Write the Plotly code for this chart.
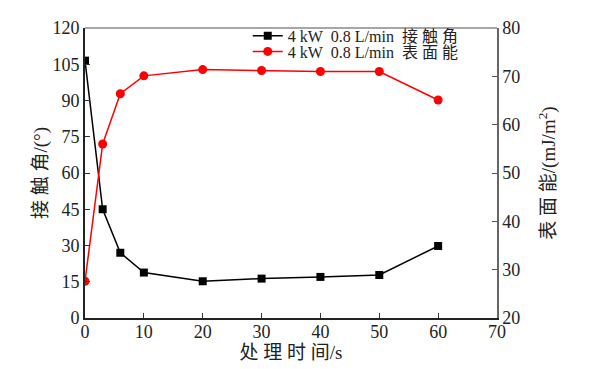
import plotly.graph_objects as go

time_s = [0, 3, 6, 10, 20, 30, 40, 50, 60]
contact_angle = [106.5, 45, 27, 18.8, 15.2, 16.3, 17, 17.8, 29.8]
surface_energy = [27.6, 56, 66.4, 70.1, 71.4, 71.2, 71, 71, 65.1]

x_ticks = [0, 10, 20, 30, 40, 50, 60, 70]
y1_ticks = [0, 15, 30, 45, 60, 75, 90, 105, 120]
y2_ticks = [20, 30, 40, 50, 60, 70, 80]

FONT = "Liberation Serif, Times New Roman, Noto Sans CJK SC, serif"
NB = "\u00a0"

fig = go.Figure()
fig.add_trace(go.Scatter(
    x=time_s, y=contact_angle, mode="lines+markers",
    name=f"4{NB}kW{NB}{NB}0.8{NB}L/min{NB}{NB}接{NB}触{NB}角",
    legend="legend",
    line=dict(color="black", width=1.5),
    marker=dict(symbol="square", size=8, color="black"),
))
fig.add_trace(go.Scatter(
    x=time_s, y=surface_energy, mode="lines+markers", yaxis="y2",
    name=f"4{NB}kW{NB}{NB}0.8{NB}L/min{NB}{NB}表{NB}面{NB}能",
    legend="legend2",
    line=dict(color="#ff0000", width=1.5),
    marker=dict(symbol="circle", size=9, color="#ff0000"),
))

leg_common = dict(xanchor="left", yanchor="middle", bgcolor="rgba(0,0,0,0)",
                  font=dict(size=16, family=FONT, color="#222"))

fig.update_layout(
    width=595, height=369,
    margin=dict(l=77, r=106, t=11, b=59),
    paper_bgcolor="white", plot_bgcolor="white",
    font=dict(family=FONT, size=16, color="#222"),
    showlegend=True,
    legend=dict(x=0.395, y=0.973, **leg_common),
    legend2=dict(x=0.395, y=0.919, **leg_common),
    xaxis=dict(range=[0, 70], tickvals=x_ticks, ticks="inside", ticklen=5,
               tickcolor="#333", showline=True, linecolor="#222", linewidth=2,
               showgrid=False, zeroline=False, automargin=False,
               ticklabelstandoff=-4,
               title=dict(text="处 理 时 间/s", standoff=0, font=dict(size=19)),
               tickfont=dict(size=18)),
    yaxis=dict(range=[0, 120], tickvals=y1_ticks, ticks="inside", ticklen=5,
               tickcolor="#333", showline=True, linecolor="#222", linewidth=2,
               showgrid=False, zeroline=False, automargin=False,
               title=dict(text="接 触 角/(°)", standoff=0, font=dict(size=19)),
               tickfont=dict(size=18)),
    yaxis2=dict(range=[20, 80], tickvals=y2_ticks, overlaying="y", side="right",
                ticks="inside", ticklen=5, tickcolor="#555",
                showline=True, linecolor="#666", linewidth=1.5,
                showgrid=False, zeroline=False, automargin=False,
                title=dict(text="表 面 能/(mJ/m<sup>2</sup>)", standoff=22, font=dict(size=19)),
                tickfont=dict(size=18)),
    shapes=[dict(type="line", xref="paper", yref="paper", x0=0, x1=1, y0=1, y1=1,
                 line=dict(color="#888", width=1.5))],
)

fig.write_html("out.html")
